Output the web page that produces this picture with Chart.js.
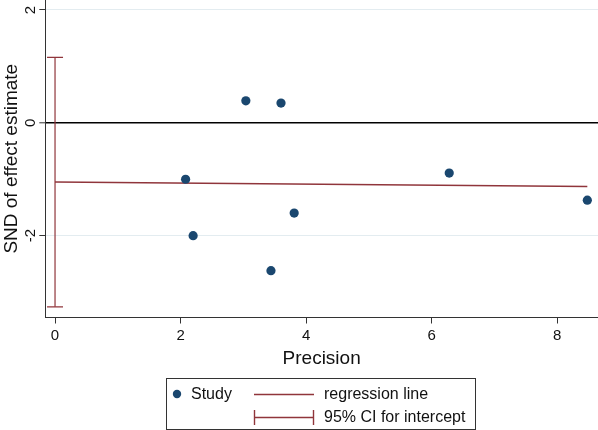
<!DOCTYPE html>
<html lang="en">
<head>
    <meta charset="UTF-8">
    <title>Galbraith / Egger plot</title>
    <style>
        body {
            margin: 0;
            background: #fff;
            font-family: 'Liberation Sans', Arial, sans-serif;
        }
        .wrap {
            position: relative;
            width: 598px;
            height: 430px;
        }
        .legend {
            position: absolute;
            left: 166px;
            top: 378px;
            width: 310px;
            height: 52px;
            border: 1px solid #333;
            box-sizing: border-box;
            font-size: 16px;
            color: #111;
        }
        .legend svg {
            position: absolute;
            left: 0;
            top: 0;
        }
        .legend span {
            position: absolute;
            line-height: 18px;
            white-space: nowrap;
        }
    </style>
    <script src="https://cdn.jsdelivr.net/npm/chart.js"></script>
</head>
<body>
<div class="wrap">
    <canvas id="egger" width="598" height="430"></canvas>
    <div class="legend">
        <svg width="310" height="52">
            <circle cx="10" cy="15" r="4.2" fill="#1a476f"></circle>
            <line x1="87" y1="15.5" x2="147" y2="15.5" stroke="#90353b" stroke-width="1.4"></line>
            <line x1="87" y1="38.5" x2="147" y2="38.5" stroke="#90353b" stroke-width="1.4"></line>
            <line x1="87.5" y1="31" x2="87.5" y2="46" stroke="#90353b" stroke-width="1.4"></line>
            <line x1="146.5" y1="31" x2="146.5" y2="46" stroke="#90353b" stroke-width="1.4"></line>
        </svg>
        <span style="left:24px; top:6px;">Study</span>
        <span style="left:157px; top:6px;">regression line</span>
        <span style="left:157px; top:29px;">95% CI for intercept</span>
    </div>
</div>

<script>
    // estudios: precision (x) y SND del efecto (y)
    const precision = [2.08, 2.20, 3.04, 3.44, 3.60, 3.81, 6.28, 8.48];
    const snd = [-1.00, -2.00, 0.39, -2.62, 0.35, -1.60, -0.89, -1.37];

    // recta de regresion (extremos) e IC 95% del intercepto
    const regX = [0, 8.48];
    const regY = [-1.05, -1.13];
    const ciLow = -3.26;
    const ciHigh = 1.16;

    const xTicks = [0, 2, 4, 6, 8];
    const yTicks = [-2, 0, 2];

    const navy = '#1a476f';
    const maroon = '#90353b';
    const axisColor = '#333';
    const font = "'Liberation Sans', Arial, sans-serif";

    const studies = precision.map((x, i) => ({ x: x, y: snd[i] }));
    const regression = regX.map((x, i) => ({ x: x, y: regY[i] }));
    const ci = [{ x: 0, y: ciLow }, { x: 0, y: ciHigh }];

    // etiquetas del eje y giradas, como en Stata
    const yLabels = {
        id: 'yLabels',
        afterDraw(chart) {
            const ctx = chart.ctx;
            const sc = chart.scales.y;
            ctx.save();
            ctx.fillStyle = '#111';
            ctx.font = '15px ' + font;
            ctx.textAlign = 'center';
            ctx.textBaseline = 'middle';
            yTicks.forEach(v => {
                ctx.save();
                ctx.translate(31, sc.getPixelForValue(v));
                ctx.rotate(-Math.PI / 2);
                ctx.fillText(String(v), 0, 0);
                ctx.restore();
            });
            ctx.restore();
        }
    };

    new Chart(document.getElementById('egger'), {
        type: 'scatter',
        data: {
            datasets: [
                {
                    label: 'Study',
                    data: studies,
                    backgroundColor: navy,
                    borderWidth: 0,
                    pointRadius: 4.6,
                    order: 0
                },
                {
                    label: 'regression line',
                    type: 'line',
                    data: regression,
                    borderColor: maroon,
                    borderWidth: 1.5,
                    pointRadius: 0,
                    order: 1
                },
                {
                    label: '95% CI for intercept',
                    type: 'line',
                    data: ci,
                    borderColor: maroon,
                    borderWidth: 1.2,
                    pointStyle: 'line',
                    pointRadius: 8,
                    pointBorderColor: maroon,
                    pointBorderWidth: 1.2,
                    order: 2
                }
            ]
        },
        options: {
            responsive: false,
            animation: false,
            devicePixelRatio: 1,
            layout: { autoPadding: false, padding: { top: 0, right: 0, left: 0, bottom: 60 } },
            plugins: {
                legend: { display: false },
                tooltip: { enabled: false }
            },
            scales: {
                x: {
                    type: 'linear',
                    min: -0.155,
                    max: 8.65,
                    afterBuildTicks: s => { s.ticks = xTicks.map(v => ({ value: v })); },
                    afterFit: s => { s.height = 52.5; },
                    grid: {
                        drawOnChartArea: false,
                        drawTicks: true,
                        tickLength: 6,
                        tickColor: axisColor
                    },
                    border: { display: true, color: axisColor, width: 1 },
                    ticks: {
                        color: '#111',
                        font: { family: font, size: 15 },
                        padding: 3,
                        maxRotation: 0
                    },
                    title: {
                        display: true,
                        text: 'Precision',
                        color: '#111',
                        font: { family: font, size: 19 },
                        padding: { top: 0, bottom: 0 }
                    }
                },
                y: {
                    type: 'linear',
                    min: -3.45,
                    max: 2.177,
                    afterBuildTicks: s => { s.ticks = yTicks.map(v => ({ value: v })); },
                    afterFit: s => { s.width = 45.3; },
                    grid: {
                        color: c => c.tick && c.tick.value === 0 ? '#000' : '#e3ecf0',
                        lineWidth: c => c.tick && c.tick.value === 0 ? 1.6 : 1,
                        drawTicks: true,
                        tickLength: 6,
                        tickColor: axisColor,
                        tickWidth: 1
                    },
                    border: { display: true, color: axisColor, width: 1 },
                    ticks: { display: false },
                    title: {
                        display: true,
                        text: 'SND of effect estimate',
                        color: '#111',
                        font: { family: font, size: 19 },
                        padding: { top: 0, bottom: 0 }
                    }
                }
            }
        },
        plugins: [yLabels]
    });
</script>
</body>
</html>
